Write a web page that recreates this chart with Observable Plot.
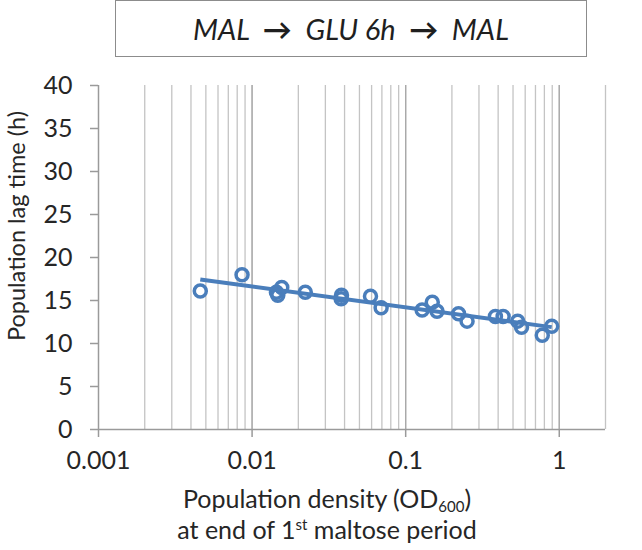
<!DOCTYPE html>
<html>
<head>
<meta charset="utf-8">
<script src="https://cdn.jsdelivr.net/npm/d3@7"></script>
<script src="https://cdn.jsdelivr.net/npm/@observablehq/plot@0.6"></script>
<style>
  html, body { margin: 0; padding: 0; background: #fff; }
  body { width: 642px; height: 550px; overflow: hidden; font-family: Lato, "Open Sans", sans-serif; color: #262626; }
  #title { margin-left: 115px; width: 472px; height: 57px; box-sizing: border-box; border: 1.5px solid #8c8c8c;
           display: flex; align-items: center; justify-content: center; font-style: italic; font-size: 29px; color: #1f1f1f; }
  #title b { font-weight: 700; font-style: normal; }
  #gap { height: 3px; }
  #chart svg [aria-label*="axis"] line, #chart svg [aria-label*="axis"] path { stroke: #9a9a9a; stroke-width: 1.5px; }
  #xlabel { width: 654px; text-align: center; font-size: 25px; line-height: 31px; color: #262626; margin-top: -2px; }
  #xlabel sub { font-size: 15px; vertical-align: -4px; line-height: 0; }
  #xlabel sup { font-size: 15px; vertical-align: 9px; line-height: 0; }
</style>
</head>
<body>
<div id="title">MAL&nbsp;&nbsp;<b>→</b>&nbsp;&nbsp;GLU 6h&nbsp;&nbsp;<b>→</b>&nbsp;&nbsp;MAL</div>
<div id="gap"></div>
<div id="chart"></div>
<div id="xlabel">Population density (OD<sub>600</sub>)<br>at end of 1<sup>st</sup> maltose period</div>
<script>
// Population density (OD600) at end of 1st maltose period
const density = [0.0046, 0.0086, 0.0144, 0.0156, 0.0147, 0.0222, 0.0382, 0.0380, 0.0590, 0.0692,
                 0.128, 0.149, 0.160, 0.221, 0.251, 0.384, 0.431, 0.536, 0.568, 0.775, 0.893];
// Population lag time (h)
const lagTime = [16.1, 18.0, 15.95, 16.5, 15.6, 15.95, 15.6, 15.2, 15.5, 14.15,
                 13.9, 14.8, 13.75, 13.45, 12.6, 13.15, 13.15, 12.6, 11.9, 10.95, 12.0];
const xMajorTicks = [0.001, 0.01, 0.1, 1];
const xDomain = [0.001, 2];
const yTicks = [0, 5, 10, 15, 20, 25, 30, 35, 40];

const data = density.map((d, i) => ({x: d, y: lagTime[i]}));

// logarithmic trend line (least squares of y on log10 x)
const lx = density.map(Math.log10);
const mx = d3.mean(lx), my = d3.mean(lagTime);
const slope = d3.sum(lx, (v, i) => (v - mx) * (lagTime[i] - my)) / d3.sum(lx, v => (v - mx) ** 2);
const icpt = my - slope * mx;
const trendX = d3.extent(density);
const trend = trendX.map(x => ({x, y: icpt + slope * Math.log10(x)}));

// vertical gridlines at every log tick (except the axis itself)
const gridValues = d3.scaleLog().domain(xDomain).ticks().filter(v => v > xDomain[0]).concat([xDomain[1]]);
const uniqueGrid = Array.from(new Set(gridValues.map(v => +v.toPrecision(6))));

const blue = "#4a7ebb";
const plot = Plot.plot({
  width: 642,
  height: 425,
  marginTop: 25,
  marginLeft: 98,
  marginRight: 37,
  marginBottom: 56,
  style: {fontSize: "25px", fontFamily: "Lato, 'Open Sans', sans-serif", color: "#262626", background: "#fff"},
  x: {type: "log", domain: xDomain, ticks: xMajorTicks, tickFormat: d => String(d), tickSize: 8, tickPadding: 14, label: null},
  y: {domain: [0, 40], ticks: yTicks, tickSize: 8, tickPadding: 18, label: null},
  marks: [
    Plot.ruleX(uniqueGrid, {stroke: "#c4c4c4", strokeWidth: 1.3}),
    Plot.ruleX(xMajorTicks.slice(1), {stroke: "#a8a8a8", strokeWidth: 1.3}),
    Plot.ruleY([0], {stroke: "#9a9a9a", strokeWidth: 1.5}),
    Plot.ruleX([xDomain[0]], {stroke: "#9a9a9a", strokeWidth: 1.5}),
    Plot.dot(data, {x: "x", y: "y", r: 6, stroke: blue, strokeWidth: 3.5, fill: "none"}),
    Plot.line(trend, {x: "x", y: "y", stroke: blue, strokeWidth: 4, strokeLinecap: "butt"})
  ]
});
document.getElementById("chart").appendChild(plot);

// y-axis title
d3.select(plot).append("text")
  .attr("transform", "translate(19,166) rotate(-90)")
  .attr("text-anchor", "middle")
  .attr("dominant-baseline", "middle")
  .attr("fill", "#262626")
  .style("font-size", "23.5px")
  .text("Population lag time (h)");
</script>
</body>
</html>
